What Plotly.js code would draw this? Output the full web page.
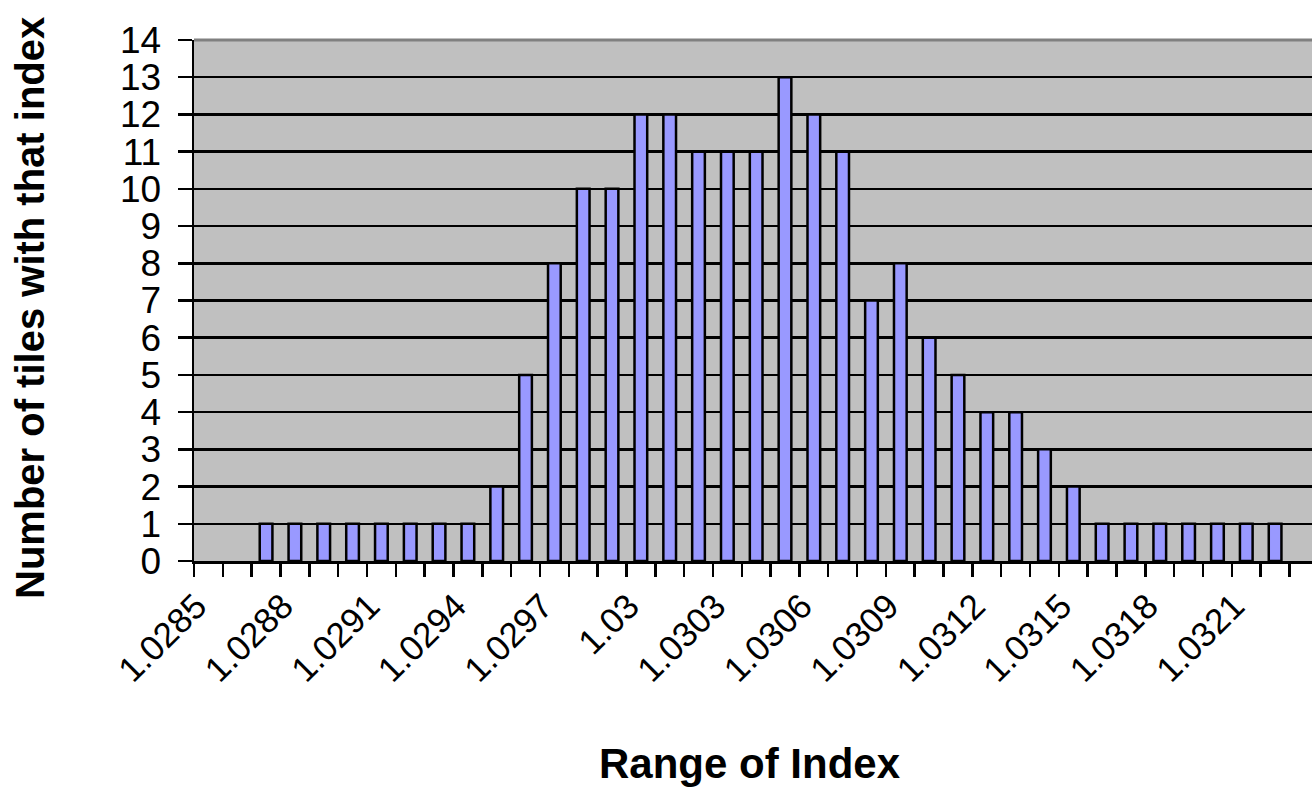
<!DOCTYPE html>
<html>
<head>
<meta charset="utf-8">
<script src="https://cdn.plot.ly/plotly-3.0.1.min.js"></script>
<style>
html,body{margin:0;padding:0;background:#fff;}
#chart{width:1312px;height:790px;}
</style>
</head>
<body>
<div id="chart"></div>
<script>
const categories = ['1.0285','1.0286','1.0287','1.0288','1.0289','1.029','1.0291','1.0292','1.0293','1.0294',
  '1.0295','1.0296','1.0297','1.0298','1.0299','1.03','1.0301','1.0302','1.0303','1.0304',
  '1.0305','1.0306','1.0307','1.0308','1.0309','1.031','1.0311','1.0312','1.0313','1.0314',
  '1.0315','1.0316','1.0317','1.0318','1.0319','1.032','1.0321','1.0322','1.0323'];
const counts = [0,0,1,1,1,1,1,1,1,1,
  2,5,8,10,10,12,12,11,11,11,
  13,12,11,7,8,6,5,4,4,3,
  2,1,1,1,1,1,1,1,0];
const labeledTicks = ['1.0285','1.0288','1.0291','1.0294','1.0297','1.03','1.0303','1.0306','1.0309','1.0312','1.0315','1.0318','1.0321'];
const yTicks = [0,1,2,3,4,5,6,7,8,9,10,11,12,13,14];
const xTitle = 'Range of Index';
const yTitle = 'Number of tiles with that index';

const tickText = categories.map(c => labeledTicks.includes(c) ? c : '');
// empty bins are not drawn (no zero-height outline)
const barHeights = counts.map(v => v === 0 ? null : v);

const FONT = 'Liberation Sans, Arial, sans-serif';

const trace = {
  type: 'bar',
  x: categories,
  y: barHeights,
  marker: {color: '#9999FF', line: {color: '#000000', width: 2.5}},
  hoverinfo: 'x+y'
};

const layout = {
  width: 1312, height: 790,
  margin: {l: 194, r: 0, t: 40, b: 229},
  paper_bgcolor: '#ffffff',
  plot_bgcolor: '#C0C0C0',
  bargap: 0.56,
  showlegend: false,
  font: {family: FONT, color: '#000000'},
  xaxis: {
    type: 'category',
    categoryorder: 'array',
    categoryarray: categories,
    range: [-0.5, 38.28],
    tickmode: 'array',
    tickvals: categories,
    ticktext: tickText,
    tickson: 'boundaries',
    ticks: 'outside', ticklen: 13, tickwidth: 2.5, tickcolor: '#000',
    tickangle: -45,
    ticklabelstandoff: 8,
    ticklabelshift: -12,
    tickfont: {family: FONT, size: 35, color: '#000'},
    showgrid: false,
    showline: true, linecolor: '#000', linewidth: 2.5,
    zeroline: false
  },
  yaxis: {
    range: [0, 14],
    tickmode: 'array',
    tickvals: yTicks,
    ticks: 'outside', ticklen: 14, tickwidth: 2.5, tickcolor: '#000',
    ticklabelstandoff: 9,
    tickfont: {family: FONT, size: 37, color: '#000'},
    showgrid: true, gridcolor: '#000', gridwidth: 2.5,
    showline: true, linecolor: '#000', linewidth: 2.5,
    zeroline: false
  },
  annotations: [
    {text: '<b>' + xTitle + '</b>', xref: 'paper', yref: 'paper', x: 0.4973, y: -0.3895,
     xanchor: 'center', yanchor: 'middle', showarrow: false,
     font: {family: FONT, size: 42, color: '#000'}},
    {text: '<b>' + yTitle + '</b>', xref: 'paper', yref: 'paper', x: -0.1467, y: 0.4856,
     xanchor: 'center', yanchor: 'middle', showarrow: false, textangle: -90,
     font: {family: FONT, size: 40, color: '#000'}}
  ],
  shapes: [
    {type: 'line', xref: 'paper', yref: 'paper', x0: 0, x1: 1, y0: 1, y1: 1,
     line: {color: '#808080', width: 3}, layer: 'above'}
  ]
};

Plotly.newPlot('chart', [trace], layout, {displayModeBar: false, staticPlot: true});
</script>
</body>
</html>
